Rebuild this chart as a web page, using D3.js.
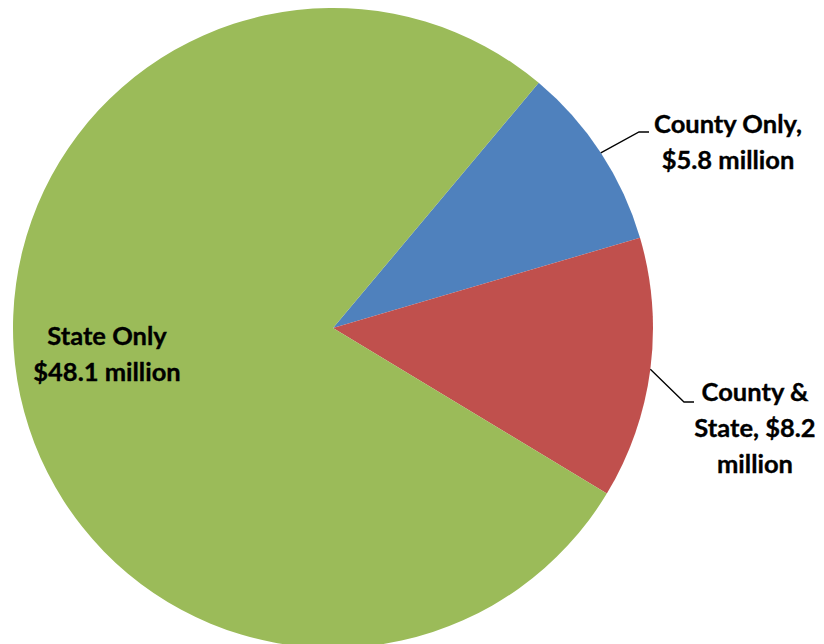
<!DOCTYPE html>
<html>
<head>
<meta charset="utf-8">
<script src="https://cdn.jsdelivr.net/npm/d3@7"></script>
<style>
  html, body { margin: 0; padding: 0; background: #fff; }
  svg { display: block; }
  text { font-family: Lato, "Open Sans", sans-serif; font-weight: bold; fill: #000; stroke: #000; stroke-width: 0.35px; }
</style>
</head>
<body>
<svg id="chart" width="824" height="644"></svg>
<script>
// Funding split, millions of dollars
const categories = ["County Only", "County & State", "State Only"];
const values = [5.8, 8.2, 48.1];
const colors = ["#4F81BD", "#C0504D", "#9BBB59"];
const labelLines = [
  ["County Only,", "$5.8 million"],
  ["County &", "State, $8.2", "million"],
  ["State Only", "$48.1 million"]
];

const data = categories.map((c, i) => ({ name: c, value: values[i], color: colors[i], lines: labelLines[i] }));

const svg = d3.select("#chart");
const cx = 333, cy = 328, r = 320;
const g = svg.append("g").attr("transform", `translate(${cx},${cy})`);

const startDeg = 40;
const pie = d3.pie()
  .value(d => d.value)
  .sort(null)
  .startAngle(startDeg * Math.PI / 180)
  .endAngle((startDeg + 360) * Math.PI / 180);

const arc = d3.arc().innerRadius(0).outerRadius(r);
const arcs = pie(data);

g.selectAll("path.slice")
  .data(arcs)
  .join("path")
  .attr("class", "slice")
  .attr("d", arc)
  .attr("fill", d => d.data.color);

const fontSize = 25.5, lineH = 36;

// Outside labels with leader lines for the two small slices
const outside = [
  { idx: 0, elbow: [639 - cx, 132 - cy], end: [649 - cx, 132 - cy], tx: 728 - cx, ty: 124 - cy },
  { idx: 1, elbow: [684 - cx, 402 - cy], end: [694 - cx, 402 - cy], tx: 755 - cx, ty: 392 - cy }
];

outside.forEach(o => {
  const a = arcs[o.idx];
  const mid = (a.startAngle + a.endAngle) / 2;
  const p0 = [Math.sin(mid) * r, -Math.cos(mid) * r];
  g.append("path")
    .attr("d", d3.line()([p0, o.elbow, o.end]))
    .attr("fill", "none")
    .attr("stroke", "#000")
    .attr("stroke-width", 1.3);
  const t = g.append("text")
    .attr("text-anchor", "middle")
    .attr("font-size", fontSize);
  a.data.lines.forEach((ln, i) => {
    t.append("tspan").attr("x", o.tx).attr("y", o.ty + i * lineH).attr("dy", "0.35em").text(ln);
  });
});

// Inside label for the large slice
const big = arcs[2];
const tb = g.append("text")
  .attr("text-anchor", "middle")
  .attr("font-size", fontSize);
big.data.lines.forEach((ln, i) => {
  tb.append("tspan").attr("x", 107 - cx).attr("y", 336 - cy + i * lineH).attr("dy", "0.35em").text(ln);
});
</script>
</body>
</html>
